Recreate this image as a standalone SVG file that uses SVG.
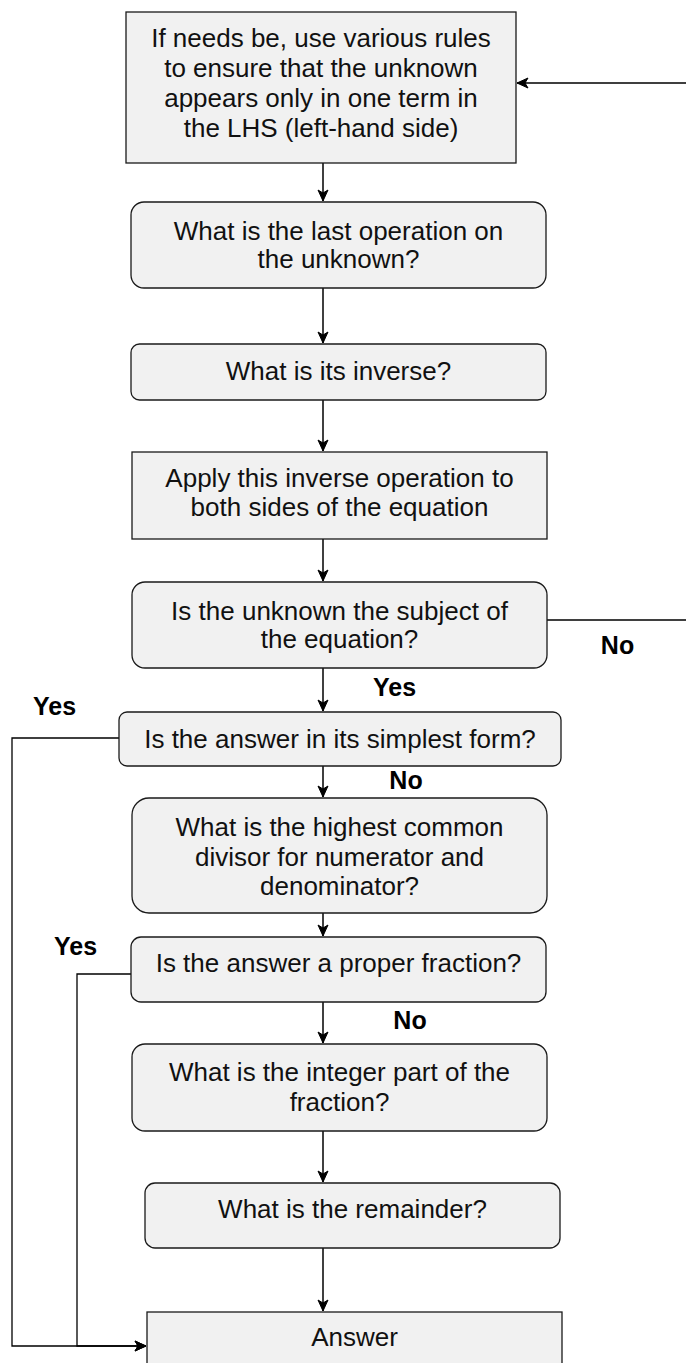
<svg xmlns="http://www.w3.org/2000/svg" width="686" height="1363" viewBox="0 0 686 1363">
<style>
.box{fill:#f1f1f1;stroke:#1a1a1a;stroke-width:1.3}
.t{font-family:"Liberation Sans",Arial,Helvetica,sans-serif;font-size:26px;fill:#111;text-anchor:middle}
.lbl{font-family:"Liberation Sans",Arial,Helvetica,sans-serif;font-size:25px;font-weight:bold;fill:#000;text-anchor:middle}
.c{fill:none;stroke:#000;stroke-width:1.5}
.c2{fill:none;stroke:#000;stroke-width:1.3}
</style>
<defs>
<marker id="arr" viewBox="-12 -6 13 12" refX="0" refY="0" markerWidth="13" markerHeight="12" markerUnits="userSpaceOnUse" orient="auto">
<path d="M0,0 L-11,-5 L-8,0 L-11,5 Z" fill="#000" stroke="#000" stroke-width="1"/>
</marker>
</defs>
<rect width="686" height="1363" fill="#fff"/>
<g id="connectors">
<path class="c" d="M323,163 V201" marker-end="url(#arr)"/>
<path class="c" d="M323,288 V343" marker-end="url(#arr)"/>
<path class="c" d="M323,400 V451" marker-end="url(#arr)"/>
<path class="c" d="M323,539 V581" marker-end="url(#arr)"/>
<path class="c" d="M323,668 V711" marker-end="url(#arr)"/>
<path class="c" d="M323,766 V797" marker-end="url(#arr)"/>
<path class="c" d="M323,913 V936" marker-end="url(#arr)"/>
<path class="c" d="M323,1002 V1043" marker-end="url(#arr)"/>
<path class="c" d="M323,1131 V1182" marker-end="url(#arr)"/>
<path class="c" d="M323,1248 V1311" marker-end="url(#arr)"/>
<path class="c2" d="M547,620 H720 V83 H517" marker-end="url(#arr)"/>
<path class="c2" d="M119,738 H12 V1346 H146" marker-end="url(#arr)"/>
<path class="c2" d="M131,974 H77 V1346 H146" marker-end="url(#arr)"/>
<text class="lbl" x="617.5" y="654">No</text>
<text class="lbl" x="394.5" y="696">Yes</text>
<text class="lbl" x="54.5" y="715">Yes</text>
<text class="lbl" x="406" y="789">No</text>
<text class="lbl" x="75.5" y="955">Yes</text>
<text class="lbl" x="410" y="1029">No</text>
</g>
<g id="n1">
<rect class="box" x="126" y="12" width="390" height="151"/>
<text class="t" x="321" y="47">If needs be, use various rules</text>
<text class="t" x="321" y="77">to ensure that the unknown</text>
<text class="t" x="321" y="107">appears only in one term in</text>
<text class="t" x="321" y="137">the LHS (left-hand side)</text>
</g>
<g id="n2">
<rect class="box" x="131" y="202" width="415" height="86" rx="13"/>
<text class="t" x="338.5" y="240">What is the last operation on</text>
<text class="t" x="338.5" y="268">the unknown?</text>
</g>
<g id="n3">
<rect class="box" x="131" y="344" width="415" height="56" rx="8.5"/>
<text class="t" x="338.5" y="380">What is its inverse?</text>
</g>
<g id="n4">
<rect class="box" x="132" y="452" width="415" height="87"/>
<text class="t" x="339.5" y="487">Apply this inverse operation to</text>
<text class="t" x="339.5" y="516">both sides of the equation</text>
</g>
<g id="n5">
<rect class="box" x="132" y="582" width="415" height="86" rx="13"/>
<text class="t" x="339.5" y="620">Is the unknown the subject of</text>
<text class="t" x="339.5" y="648">the equation?</text>
</g>
<g id="n6">
<rect class="box" x="119" y="712" width="442" height="54" rx="8"/>
<text class="t" x="340" y="748">Is the answer in its simplest form?</text>
</g>
<g id="n7">
<rect class="box" x="132" y="798" width="415" height="115" rx="17"/>
<text class="t" x="339.5" y="836">What is the highest common</text>
<text class="t" x="339.5" y="866">divisor for numerator and</text>
<text class="t" x="339.5" y="895">denominator?</text>
</g>
<g id="n8">
<rect class="box" x="131" y="937" width="415" height="65" rx="10"/>
<text class="t" x="338.5" y="972">Is the answer a proper fraction?</text>
</g>
<g id="n9">
<rect class="box" x="132" y="1044" width="415" height="87" rx="13"/>
<text class="t" x="339.5" y="1081">What is the integer part of the</text>
<text class="t" x="339.5" y="1111">fraction?</text>
</g>
<g id="n10">
<rect class="box" x="145" y="1183" width="415" height="65" rx="10"/>
<text class="t" x="352.5" y="1218">What is the remainder?</text>
</g>
<g id="n11">
<rect class="box" x="147" y="1312" width="415" height="70"/>
<text class="t" x="354.5" y="1346">Answer</text>
</g>
</svg>
